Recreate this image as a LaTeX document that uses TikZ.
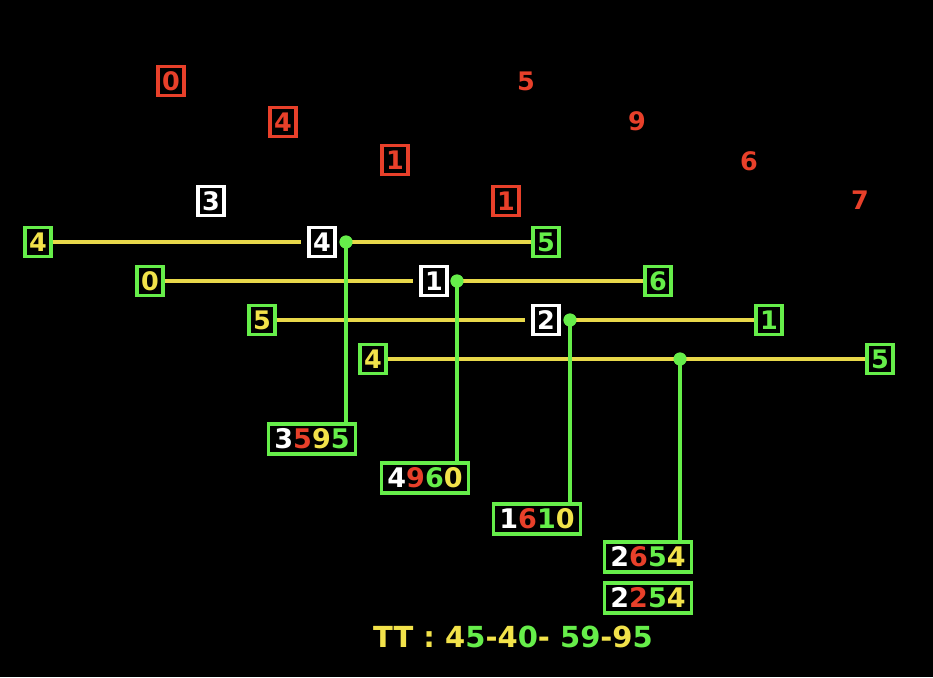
\documentclass[tikz,border=0pt]{standalone}
\usepackage{fontspec}
\setmainfont{DejaVu Sans}
\newfontfamily\digf{DejaVuSans-Bold.ttf}
\definecolor{rd}{HTML}{E8402A}
\definecolor{gr}{HTML}{66EE4A}
\definecolor{yl}{HTML}{F2E24A}
\definecolor{ln}{HTML}{E8D84A}
\begin{document}
\begin{tikzpicture}[x=1pt,y=-1pt,
  dig/.style={font=\digf\fontsize{25.5}{25.5}\selectfont, inner sep=0pt},
  bx/.style={dig, draw, line width=3.2pt, minimum width=26pt, minimum height=29pt},
  rbox/.style={bx, draw=rd, text=rd},
  wbox/.style={bx, draw=white, text=white},
  gyb/.style={bx, draw=gr, text=yl},
  ggb/.style={bx, draw=gr, text=gr},
  rtxt/.style={dig, text=rd},
  sbox/.style={dig, font=\digf\fontsize{27}{27}\selectfont, draw=gr, line width=3.2pt, minimum width=87pt, minimum height=30pt},
  yline/.style={draw=ln, line width=3.6pt},
  gline/.style={draw=gr, line width=3.6pt},
  dot/.style={circle, fill=gr, inner sep=0pt, minimum size=13pt}]
\fill[black] (0,0) rectangle (933,677);
\useasboundingbox (0,0) rectangle (933,677);
% top digits
\node[rbox] (t0) at (171,81) {0};
\node[rbox] (t4) at (283,122) {4};
\node[rbox] (t1a) at (395,160) {1};
\node[wbox] (t3) at (211,201) {3};
\node[rbox] (t1b) at (506,201) {1};
\node[rtxt] (t5) at (526,81) {5};
\node[rtxt] (t9) at (637,121) {9};
\node[rtxt] (t6) at (749,161) {6};
\node[rtxt] (t7) at (860,200) {7};
% row 1
\node[gyb] (a1) at (38,242) {4};
\node[wbox] (a2) at (322,242) {4};
\node[ggb] (a3) at (546,242) {5};
\node[dot] (da) at (346,242) {};
% row 2
\node[gyb] (b1) at (150,281) {0};
\node[wbox] (b2) at (434,281) {1};
\node[ggb] (b3) at (658,281) {6};
\node[dot] (db) at (457,281) {};
% row 3
\node[gyb] (c1) at (262,320) {5};
\node[wbox] (c2) at (546,320) {2};
\node[ggb] (c3) at (769,320) {1};
\node[dot] (dc) at (570,320) {};
% row 4
\node[gyb] (e1) at (373,359) {4};
\node[ggb] (e3) at (880,359) {5};
\node[dot] (de) at (680,359) {};
% result boxes
\node[sbox] (s1) at (312,439) {\textcolor{white}{3}\textcolor{rd}{5}\textcolor{yl}{9}\textcolor{gr}{5}};
\node[sbox] (s2) at (425,478) {\textcolor{white}{4}\textcolor{rd}{9}\textcolor{gr}{6}\textcolor{yl}{0}};
\node[sbox] (s3) at (537,519) {\textcolor{white}{1}\textcolor{rd}{6}\textcolor{gr}{1}\textcolor{yl}{0}};
\node[sbox] (s4) at (648,557) {\textcolor{white}{2}\textcolor{rd}{6}\textcolor{gr}{5}\textcolor{yl}{4}};
\node[sbox] (s5) at (648,598) {\textcolor{white}{2}\textcolor{rd}{2}\textcolor{gr}{5}\textcolor{yl}{4}};
% lines
\draw[yline, shorten >=6pt] (a1.east) -- (a2.west);
\draw[yline] (da.center) -- (a3.west);
\draw[yline, shorten >=6pt] (b1.east) -- (b2.west);
\draw[yline] (db.center) -- (b3.west);
\draw[yline, shorten >=6pt] (c1.east) -- (c2.west);
\draw[yline] (dc.center) -- (c3.west);
\draw[yline] (e1.east) -- (e3.west);
\draw[gline] (da.center) -- (da |- s1.north);
\draw[gline] (db.center) -- (db |- s2.north);
\draw[gline] (dc.center) -- (dc |- s3.north);
\draw[gline] (de.center) -- (de |- s4.north);
\node[dot] at (da) {};
\node[dot] at (db) {};
\node[dot] at (dc) {};
\node[dot] at (de) {};
% bottom text
\node[font=\digf\fontsize{29}{29}\selectfont, inner sep=0pt, text=yl] (tt) at (513,637)
 {TT : 4\textcolor{gr}{5}-4\textcolor{gr}{0}- \textcolor{gr}{59}-9\textcolor{gr}{5}};
\end{tikzpicture}
\end{document}
